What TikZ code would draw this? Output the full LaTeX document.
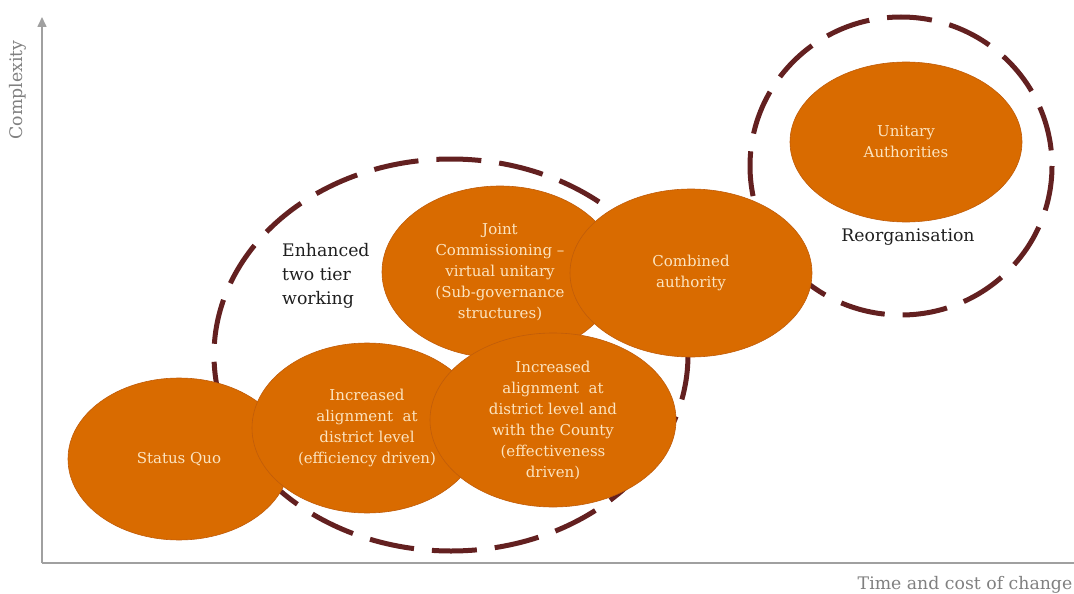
\documentclass[tikz,border=0pt]{standalone}
\usepackage{fontspec}
\setmainfont{DejaVu Serif}
\usetikzlibrary{shapes.geometric,arrows.meta}
\definecolor{rust}{RGB}{217,107,0}
\definecolor{rustline}{RGB}{192,92,10}
\definecolor{cream}{RGB}{252,228,192}
\definecolor{maroon}{RGB}{99,32,32}
\definecolor{axisgray}{RGB}{160,160,160}
\definecolor{labelgray}{RGB}{128,128,128}
\begin{document}
\begin{tikzpicture}[x=1pt,y=-1pt,
    option/.style={ellipse,fill=rust,draw=rustline,line width=0.6pt,text=cream,
      align=center,inner sep=0pt,font=\fontsize{15}{21}\selectfont},
    grouping/.style={draw=maroon,line width=5pt,dash pattern=on 45pt off 18pt},
    grouplabel/.style={inner sep=0pt,text=black!88,font=\fontsize{17.3}{24}\selectfont},
    axislabel/.style={inner sep=0pt,text=labelgray,font=\fontsize{17.3}{22}\selectfont}]
    \useasboundingbox (0,0) rectangle (1074,594);
    % axes
    \coordinate (origin) at (42,563);
    \coordinate (ytop) at (42,17);
    \coordinate (xend) at (1074,563);
    \draw [axisgray,line width=1.6pt,-{Triangle[length=10pt,width=9pt]}] (origin) -- (ytop);
    \draw [axisgray,line width=1.6pt] (origin) -- (xend);
    \node [axislabel,rotate=90] (complexity) at (18,90) {Complexity};
    \node [axislabel] (timecost) at (965,585) {Time and cost of change};
    % dashed groupings
    \draw [grouping] (451,355) ellipse [x radius=237, y radius=196];
    \draw [grouping] (901,166) ellipse [x radius=151, y radius=149];
    \node [grouplabel,align=left,anchor=west] (enhanced) at (282,276) {Enhanced\\two tier\\working};
    % options
    \node [option,minimum width=222pt,minimum height=162pt] (statusquo) at (179,459) {Status Quo};
    \node [option,minimum width=230pt,minimum height=170pt] (efficiency) at (367,428)
        {Increased\\alignment\ \ at\\district level\\(efficiency driven)};
    \node [option,minimum width=236pt,minimum height=172pt] (joint) at (500,272)
        {Joint\\Commissioning --\\virtual unitary\\(Sub-governance\\structures)};
    \node [option,minimum width=242pt,minimum height=168pt] (combined) at (691,273) {Combined\\authority};
    \node [option,minimum width=246pt,minimum height=174pt] (effectiveness) at (553,420)
        {Increased\\alignment\ \ at\\district level and\\with the County\\(effectiveness\\driven)};
    \node [option,minimum width=232pt,minimum height=160pt] (unitary) at (906,142) {Unitary\\Authorities};
    \node [grouplabel] (reorg) at (908,237) {Reorganisation};
\end{tikzpicture}
\end{document}
